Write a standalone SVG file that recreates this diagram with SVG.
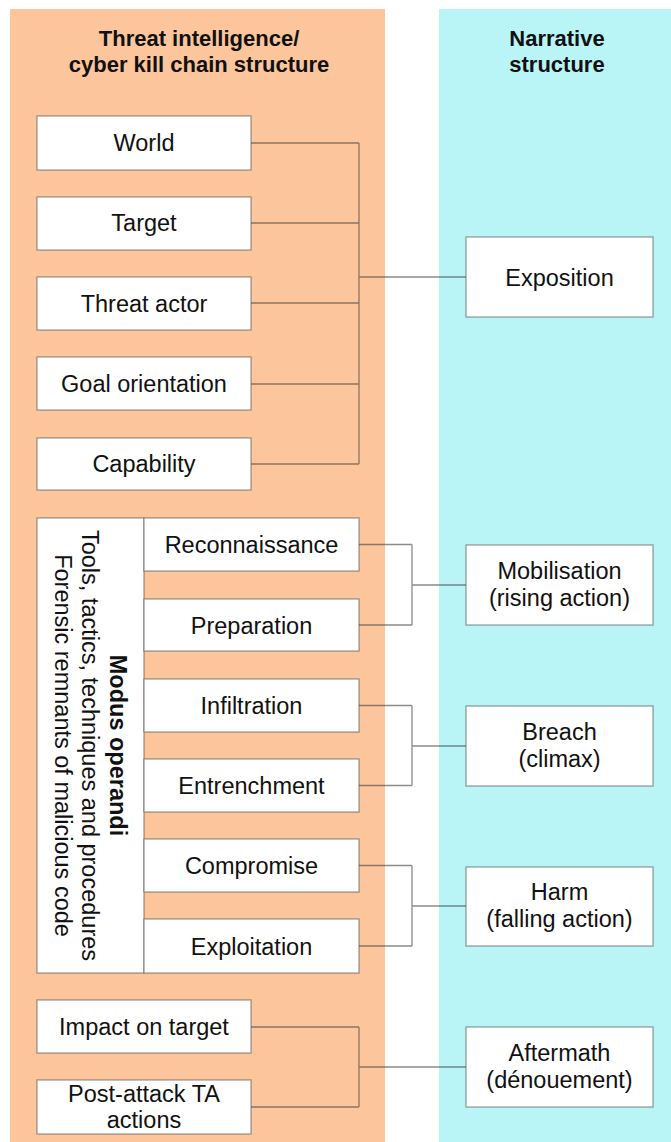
<svg xmlns="http://www.w3.org/2000/svg" width="671" height="1142" viewBox="0 0 671 1142">
<style>
.box{fill:#ffffff;stroke:#505050;stroke-opacity:0.55;stroke-width:1.3}
.t{font-family:"Liberation Sans",Arial,sans-serif;font-size:23.5px;fill:#111;text-anchor:middle}
.h{font-family:"Liberation Sans",Arial,sans-serif;font-size:22px;font-weight:bold;fill:#111;text-anchor:middle}
.b{font-weight:bold}
.c{fill:none;stroke:#404040;stroke-opacity:0.6;stroke-width:1.3}
</style>
<rect x="0" y="0" width="671" height="1142" fill="#ffffff"/>
<g id="panel-threat">
<rect x="10" y="9" width="375" height="1133" fill="#fdc59b"/>
<text class="h" x="199" y="46">Threat intelligence/</text>
<text class="h" x="199" y="72">cyber kill chain structure</text>
</g>
<g id="panel-narrative">
<rect x="439" y="9" width="232" height="1133" fill="#b9f4f7"/>
<text class="h" x="557" y="46">Narrative</text>
<text class="h" x="557" y="72">structure</text>
</g>
<g id="connectors">
<path class="c" d="M251 143H359M251 223H359M251 303H359M251 384H359M251 464H359M359 143V464M359 277H466"/>
<path class="c" d="M359 544.5H412M359 625H412M412 544.5V625M412 585H466"/>
<path class="c" d="M359 705.5H412M359 785.5H412M412 705.5V785.5M412 746H466"/>
<path class="c" d="M359 865.5H412M359 946H412M412 865.5V946M412 906H466"/>
<path class="c" d="M251 1027H359M251 1107H359M359 1027V1107M359 1067H466"/>
</g>
<g id="world"><rect class="box" x="37" y="116" width="214" height="54"/><text class="t" x="144" y="151">World</text></g>
<g id="target"><rect class="box" x="37" y="197" width="214" height="53"/><text class="t" x="144" y="231">Target</text></g>
<g id="threat-actor"><rect class="box" x="37" y="277" width="214" height="53"/><text class="t" x="144" y="311.5">Threat actor</text></g>
<g id="goal-orientation"><rect class="box" x="37" y="357" width="214" height="53"/><text class="t" x="144" y="391.5">Goal orientation</text></g>
<g id="capability"><rect class="box" x="37" y="438" width="214" height="52"/><text class="t" x="144" y="472">Capability</text></g>
<g id="modus-operandi">
<rect class="box" x="37" y="518" width="107" height="455"/>
<text class="t b" transform="translate(109.5,745.5) rotate(90)">Modus operandi</text>
<text class="t" transform="translate(82,745.5) rotate(90)">Tools, tactics, techniques and procedures</text>
<text class="t" transform="translate(55,745.5) rotate(90)">Forensic remnants of malicious code</text>
</g>
<g id="reconnaissance"><rect class="box" x="144" y="518" width="215" height="53"/><text class="t" x="251.5" y="553">Reconnaissance</text></g>
<g id="preparation"><rect class="box" x="144" y="599" width="215" height="52"/><text class="t" x="251.5" y="633.5">Preparation</text></g>
<g id="infiltration"><rect class="box" x="144" y="679" width="215" height="53"/><text class="t" x="251.5" y="714">Infiltration</text></g>
<g id="entrenchment"><rect class="box" x="144" y="759" width="215" height="53"/><text class="t" x="251.5" y="794">Entrenchment</text></g>
<g id="compromise"><rect class="box" x="144" y="839" width="215" height="53"/><text class="t" x="251.5" y="874">Compromise</text></g>
<g id="exploitation"><rect class="box" x="144" y="919" width="215" height="54"/><text class="t" x="251.5" y="954.5">Exploitation</text></g>
<g id="impact"><rect class="box" x="37" y="1000" width="214" height="53"/><text class="t" x="144" y="1035">Impact on target</text></g>
<g id="post-attack"><rect class="box" x="37" y="1080" width="214" height="54"/><text class="t" x="144" y="1102">Post-attack TA</text><text class="t" x="144" y="1128">actions</text></g>
<g id="exposition"><rect class="box" x="466" y="237" width="187" height="80"/><text class="t" x="559.5" y="285.5">Exposition</text></g>
<g id="mobilisation"><rect class="box" x="466" y="545" width="187" height="80"/><text class="t" x="559.5" y="579">Mobilisation</text><text class="t" x="559.5" y="605.5">(rising action)</text></g>
<g id="breach"><rect class="box" x="466" y="706" width="187" height="80"/><text class="t" x="559.5" y="740">Breach</text><text class="t" x="559.5" y="767">(climax)</text></g>
<g id="harm"><rect class="box" x="466" y="867" width="187" height="79"/><text class="t" x="559.5" y="900">Harm</text><text class="t" x="559.5" y="927">(falling action)</text></g>
<g id="aftermath"><rect class="box" x="466" y="1027" width="187" height="80"/><text class="t" x="559.5" y="1061">Aftermath</text><text class="t" x="559.5" y="1088">(dénouement)</text></g>
</svg>
